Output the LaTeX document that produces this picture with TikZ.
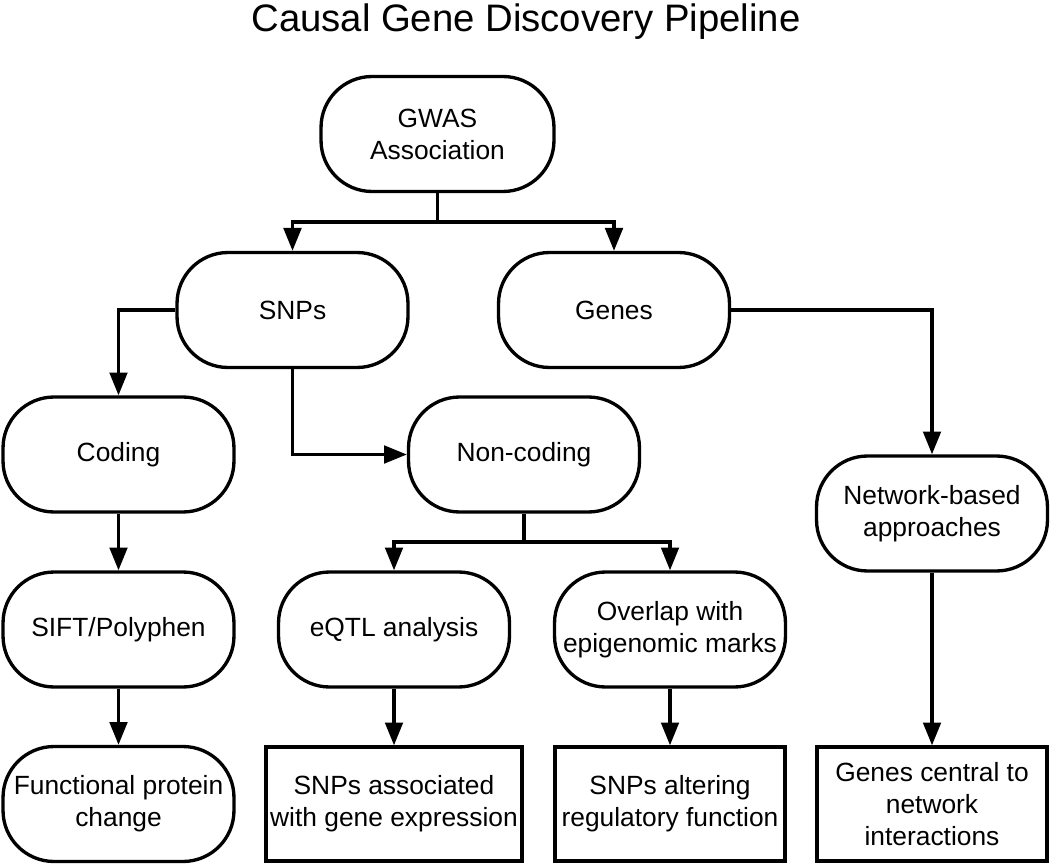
\documentclass[tikz,border=0pt]{standalone}
\usepackage{fontspec}
\setmainfont{Liberation Sans}
\usetikzlibrary{arrows.meta}
\tikzset{
	stage/.style={draw,line width=1.9pt,rounded corners=1.02cm,align=center,inner sep=0pt,
		minimum width=4.62cm,minimum height=2.3cm,font=\fontsize{15}{18.2}\selectfont},
	result/.style={draw,line width=1.9pt,align=center,inner sep=0pt,
		minimum width=4.6cm,minimum height=2.28cm,font=\fontsize{15}{18.2}\selectfont},
	flow/.style={line width=1.9pt,-{Triangle[length=13pt,width=10pt]}},
	link/.style={line width=1.9pt}
}
\begin{document}
\begin{tikzpicture}[line join=miter,x=0.02cm,y=-0.02cm]
			\useasboundingbox (0,0) rectangle (1050,864);
			%%%%%%%%%%%%%%% T I T L E %%%%%%%%%%%%%%%%
			\node (title) at (526,22) {\fontsize{21.8}{26}\selectfont Causal Gene Discovery Pipeline};
			%%%%%%%%%%%%%%% S T A G E S %%%%%%%%%%%%%%%%
			%level 0
			\node[stage,minimum width=4.66cm] (gwas) at (437.5,134) {GWAS\\Association};
			%level 1
			\node[stage] (snps) at (292.5,310) {SNPs};
			\node[stage] (genes) at (614,310) {Genes};
			%level 2
			\node[stage] (coding) at (118.5,454.5) {Coding};
			\node[stage] (noncoding) at (524,454.5) {Non-coding};
			\node[stage] (network) at (932,513.5) {Network-based\\approaches};
			%level 3
			\node[stage] (sift) at (118.5,629.5) {SIFT/Polyphen};
			\node[stage] (eqtl) at (394,629.5) {eQTL analysis};
			\node[stage] (overlap) at (670,629.5) {Overlap with\\epigenomic marks};
			%%%%%%%%%%%%%%% R E S U L T S %%%%%%%%%%%%%%%%
			\node[stage] (protein) at (118.5,804) {Functional protein\\change};
			\node[result,minimum width=5.12cm] (expression) at (394,804) {SNPs associated\\with gene expression};
			\node[result] (regulatory) at (670,804) {SNPs altering\\regulatory function};
			\node[result] (central) at (932,804) {Genes central to\\network\\interactions};
			%%%%%%%%%%%%%%% A R R O W S %%%%%%%%%%%%%%%%
			%gwas split
			\coordinate (gsplit) at (437.5,222);
			\draw [link] (gwas) -- (gsplit);
			\draw [flow] (gsplit) -| (snps);
			\draw [flow] (gsplit) -| (genes);
			%snps
			\draw [flow] (snps.west) -| (coding);
			\draw [flow] (snps.south) |- (noncoding.west);
			%genes
			\draw [flow] (genes.east) -| (network);
			%noncoding split
			\coordinate (nsplit) at (524,542);
			\draw [link] (noncoding) -- (nsplit);
			\draw [flow] (nsplit) -| (eqtl);
			\draw [flow] (nsplit) -| (overlap);
			%straight down
			\draw [flow] (coding) -- (sift);
			\draw [flow] (sift) -- (protein);
			\draw [flow] (eqtl) -- (expression);
			\draw [flow] (overlap) -- (regulatory);
			\draw [flow] (network) -- (central);
\end{tikzpicture}
\end{document}
